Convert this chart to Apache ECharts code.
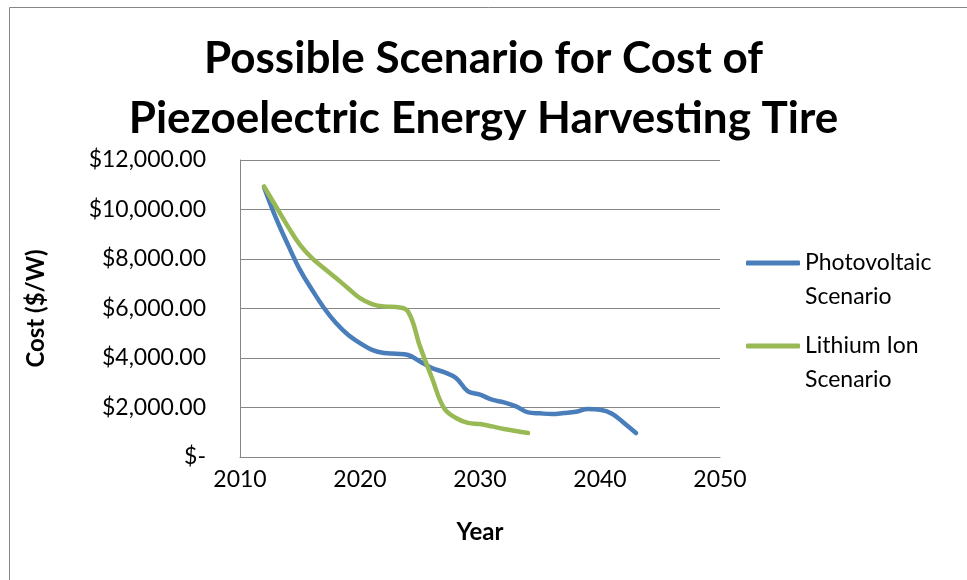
<!DOCTYPE html>
<html>
<head>
<meta charset="utf-8">
<script src="https://cdn.jsdelivr.net/npm/echarts@6/dist/echarts.min.js"></script>
<style>
  html, body { margin: 0; padding: 0; background: #fff; }
  #chart { width: 967px; height: 580px; }
</style>
</head>
<body>
<div id="chart"></div>
<script>
// years along x
const pvYears = [2012, 2013, 2014, 2015, 2016, 2017, 2018, 2019, 2020, 2021, 2022, 2023, 2024, 2025, 2026, 2027,
  2028, 2029, 2030, 2031, 2032, 2033, 2034, 2035, 2036, 2037, 2038, 2039, 2040, 2041, 2042, 2043];
const pvCost = [10900, 9650, 8570, 7560, 6760, 6020, 5410, 4940, 4600, 4330, 4200, 4170, 4120, 3860, 3590, 3430,
  3190, 2650, 2520, 2315, 2207, 2046, 1803, 1763, 1736, 1777, 1830, 1938, 1911, 1750, 1373, 969];

const liYears = [2012, 2013, 2014, 2015, 2016, 2017, 2018, 2019, 2020, 2021, 2022, 2023, 2024, 2025, 2026, 2027,
  2028, 2029, 2030, 2031, 2032, 2033, 2034];
const liCost = [10930, 10120, 9310, 8570, 8035, 7630, 7230, 6820, 6420, 6180, 6080, 6060, 5880, 4470, 3190, 1980,
  1575, 1380, 1332, 1238, 1130, 1050, 969];

const seriesNames = ["Photovoltaic Scenario", "Lithium Ion Scenario"];
// leading blank line so the icon (centred on the block) sits on the first text line
const legendLabels = {
  "Photovoltaic Scenario": "\nPhotovoltaic\nScenario",
  "Lithium Ion Scenario": "\nLithium Ion\nScenario",
};

const FONT = "Lato, 'Open Sans', sans-serif";
const LH = 34; // legend line height

function pairs(xs, ys) {
  return xs.map((x, i) => [x, ys[i]]);
}

function legendFor(name, top) {
  return {
    data: [name],
    left: 741,
    top: top,
    orient: "vertical",
    icon: "roundRect",
    itemWidth: 54,
    itemHeight: 5,
    itemGap: 0,
    formatter: (n) => legendLabels[n],
    textStyle: {
      fontFamily: FONT,
      fontSize: 23,
      color: "#000",
      lineHeight: LH,
    },
  };
}

const chart = echarts.init(document.getElementById("chart"));
chart.setOption({
  animation: false,
  color: ["#4a7ebb", "#98b954"],
  title: {
    text: "Possible Scenario for Cost of\nPiezoelectric Energy Harvesting Tire",
    left: "center",
    top: 24,
    textStyle: {
      fontFamily: FONT,
      fontWeight: "bold",
      fontSize: 44,
      lineHeight: 60,
      color: "#000",
    },
  },
  legend: [legendFor(seriesNames[0], 207), legendFor(seriesNames[1], 290)],
  grid: { left: 240, right: 247, top: 160, bottom: 123 },
  xAxis: {
    type: "value",
    min: 2010,
    max: 2050,
    interval: 10,
    name: "Year",
    nameLocation: "middle",
    nameGap: 63,
    nameTextStyle: { fontFamily: FONT, fontWeight: "bold", fontSize: 24, color: "#000" },
    axisLine: { lineStyle: { color: "#868686", width: 1 } },
    axisTick: { show: false },
    splitLine: { show: false },
    axisLabel: { fontFamily: FONT, fontSize: 23, color: "#000", margin: 11, formatter: (v) => String(v) },
  },
  yAxis: {
    type: "value",
    min: 0,
    max: 12000,
    interval: 2000,
    name: "Cost ($/W)",
    nameLocation: "middle",
    nameGap: 192,
    nameTextStyle: { fontFamily: FONT, fontWeight: "bold", fontSize: 24, color: "#000" },
    axisLine: { show: true, lineStyle: { color: "#868686", width: 1 } },
    axisTick: { show: false },
    splitLine: { lineStyle: { color: "#868686", width: 1 } },
    axisLabel: {
      fontFamily: FONT,
      fontSize: 23,
      color: "#000",
      margin: 34,
      formatter: (v) =>
        v === 0 ? "$-" : "$" + v.toLocaleString("en-US", { minimumFractionDigits: 2, maximumFractionDigits: 2 }),
    },
  },
  graphic: [
    {
      type: "rect",
      left: 7,
      top: 5,
      shape: { width: 959, height: 590 },
      style: { fill: "none", stroke: "#868686", lineWidth: 1 },
      silent: true,
    },
  ],
  series: [
    {
      name: seriesNames[0],
      type: "line",
      data: pairs(pvYears, pvCost),
      smooth: 0.4,
      symbol: "none",
      lineStyle: { width: 4.5, cap: "round", join: "round" },
    },
    {
      name: seriesNames[1],
      type: "line",
      data: pairs(liYears, liCost),
      smooth: 0.4,
      symbol: "none",
      lineStyle: { width: 4.5, cap: "round", join: "round" },
    },
  ],
});
</script>
</body>
</html>
